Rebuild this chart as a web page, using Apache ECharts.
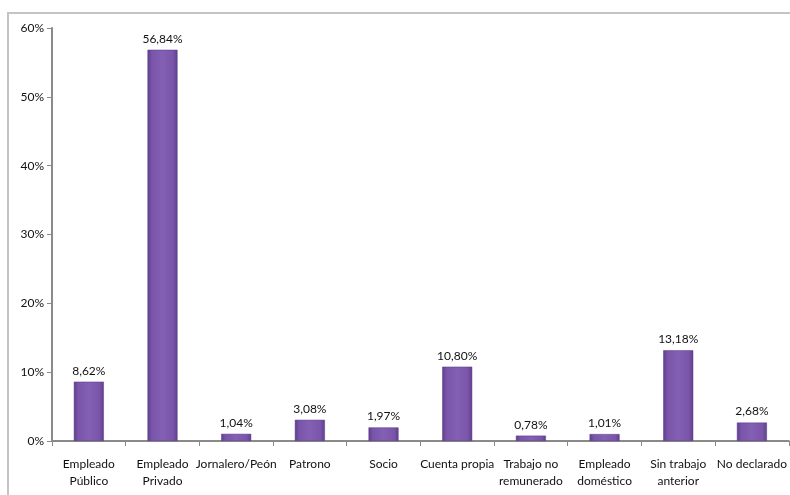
<!DOCTYPE html>
<html>
<head>
<meta charset="utf-8">
<script src="https://cdn.jsdelivr.net/npm/echarts@6/dist/echarts.min.js"></script>
<style>
  html, body { margin: 0; padding: 0; background: #fff; }
  #frame { position: absolute; left: 7px; top: 12px; width: 800px; height: 500px; border-left: 2px solid #c4c4c4; border-top: 2px solid #c4c4c4; box-sizing: border-box; }
  #chart { position: absolute; left: 0; top: 0; width: 790px; height: 495px; }
</style>
</head>
<body>
<div id="frame"></div>
<div id="chart"></div>
<script>
// Categories of occupational status and their share (%)
const categories = [
  'Empleado\nPúblico', 'Empleado\nPrivado', 'Jornalero/Peón', 'Patrono', 'Socio',
  'Cuenta propia', 'Trabajo no\nremunerado', 'Empleado\ndoméstico', 'Sin trabajo\nanterior', 'No declarado'
];
const shares = [8.62, 56.84, 1.04, 3.08, 1.97, 10.80, 0.78, 1.01, 13.18, 2.68];
const yTicks = [0, 10, 20, 30, 40, 50, 60];

const chart = echarts.init(document.getElementById('chart'), null, { renderer: 'canvas' });

const barFill = new echarts.graphic.LinearGradient(0, 0, 1, 0, [
  { offset: 0, color: '#5f3f8c' },
  { offset: 0.15, color: '#7a55aa' },
  { offset: 0.5, color: '#8360b4' },
  { offset: 0.85, color: '#7a55aa' },
  { offset: 1, color: '#5f3f8c' }
]);

chart.setOption({
  animation: false,
  backgroundColor: 'transparent',
  grid: { left: 52, right: 1, top: 28, bottom: 54, containLabel: false },
  xAxis: {
    type: 'category',
    data: categories,
    axisLine: { lineStyle: { color: '#8a8a8a', width: 2 } },
    axisTick: { show: true, alignWithLabel: false, length: 5, lineStyle: { color: '#8a8a8a', width: 1 } },
    axisLabel: {
      interval: 0, margin: 15, color: '#111',
      fontFamily: 'Lato', fontSize: 12, lineHeight: 17
    },
    splitLine: { show: false }
  },
  yAxis: {
    type: 'value',
    min: yTicks[0], max: yTicks[yTicks.length - 1], interval: 10,
    axisLine: { show: true, lineStyle: { color: '#8a8a8a', width: 2 } },
    axisTick: { show: true, length: 5, lineStyle: { color: '#8a8a8a' } },
    axisLabel: {
      color: '#111', fontFamily: 'Lato', fontSize: 12, margin: 8,
      formatter: v => v + '%'
    },
    splitLine: { show: false }
  },
  series: [{
    type: 'bar',
    data: shares,
    barWidth: 30,
    itemStyle: { color: barFill, borderColor: '#5a3b86', borderWidth: 0.5 },
    label: {
      show: true, position: 'top', distance: 5,
      color: '#111', fontFamily: 'Lato', fontSize: 12,
      formatter: p => p.value.toFixed(2).replace('.', ',') + '%'
    }
  }]
});
</script>
</body>
</html>
